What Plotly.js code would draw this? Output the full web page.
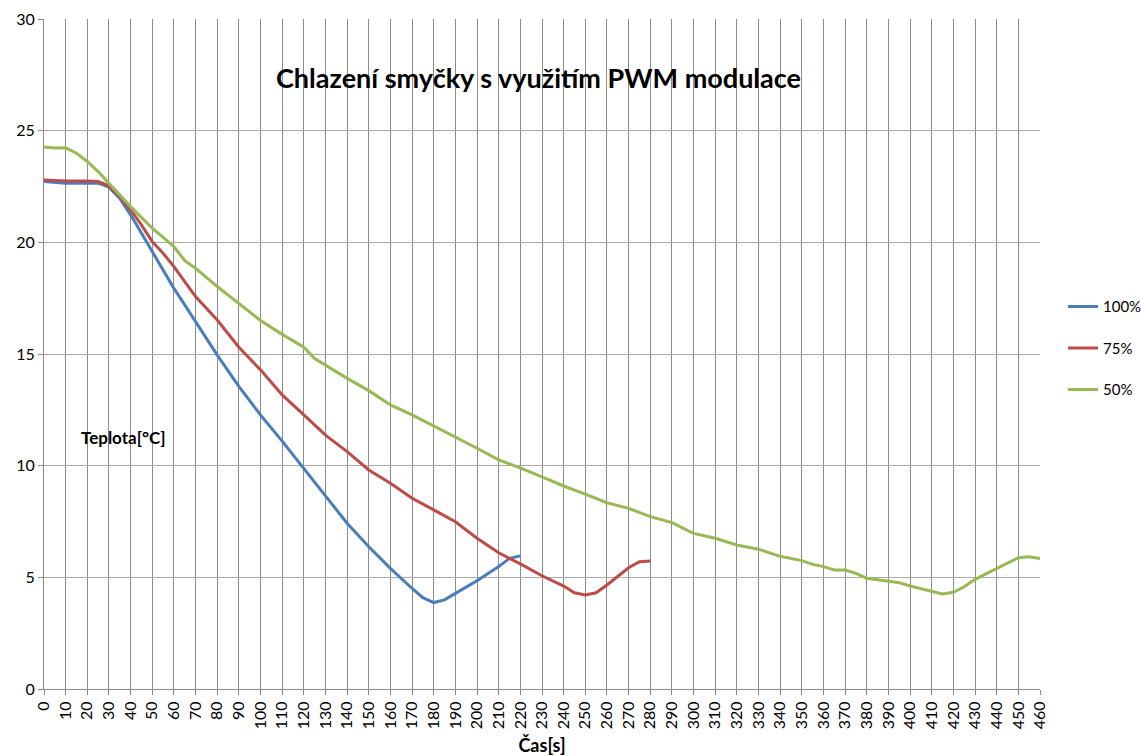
<!DOCTYPE html>
<html>
<head>
<meta charset="utf-8">
<script src="https://cdn.plot.ly/plotly-3.0.1.min.js"></script>
<style>html,body{margin:0;padding:0;background:#fff;}#chart{width:1141px;height:756px;}</style>
</head>
<body>
<div id="chart"></div>
<script>
// Data
const seriesNames = ["100%", "75%", "50%"];
const seriesColors = ["#4A7EBB", "#BE4B48", "#98B954"];

const time100 = [0,10,20,25,30,35,40,45,50,55,60,65,70,75,80,90,100,110,120,130,140,150,160,170,175,180,185,190,200,210,215,220];
const temp100 = [22.72,22.65,22.65,22.65,22.47,21.97,21.23,20.41,19.59,18.76,17.94,17.2,16.45,15.7,14.95,13.55,12.27,11.1,9.88,8.69,7.42,6.37,5.4,4.5,4.09,3.87,3.99,4.28,4.85,5.48,5.85,5.96];

const time75 = [0,10,20,25,30,35,40,45,50,55,60,65,70,80,90,100,110,120,130,140,150,160,170,180,190,200,210,220,230,240,245,250,255,260,265,270,275,280];
const temp75 = [22.79,22.75,22.75,22.72,22.53,22.05,21.45,20.78,20.03,19.51,18.91,18.24,17.57,16.52,15.3,14.29,13.17,12.27,11.37,10.63,9.81,9.21,8.54,8.02,7.49,6.75,6.1,5.6,5.07,4.61,4.31,4.21,4.31,4.66,5.03,5.43,5.70,5.73];

const time50 = [0,5,10,15,20,25,30,35,40,50,60,65,70,80,90,100,110,120,125,130,140,150,160,170,180,190,200,210,220,230,240,250,260,270,280,290,300,310,320,330,340,350,355,360,365,370,375,380,390,395,400,410,415,420,425,430,440,445,450,455,460];
const temp50 = [24.27,24.22,24.23,23.99,23.62,23.17,22.64,22.12,21.6,20.63,19.81,19.18,18.84,18.02,17.27,16.5,15.88,15.3,14.8,14.5,13.91,13.36,12.72,12.27,11.78,11.3,10.78,10.26,9.9,9.5,9.09,8.73,8.34,8.09,7.72,7.45,6.97,6.75,6.45,6.26,5.94,5.75,5.58,5.48,5.33,5.33,5.18,4.96,4.81,4.76,4.61,4.39,4.25,4.33,4.58,4.91,5.40,5.63,5.88,5.92,5.84];

const xTickVals = [];
for (let t = 0; t <= 460; t += 10) xTickVals.push(t);
const yTickVals = [0,5,10,15,20,25,30];

const chartTitle = "Chlazení smyčky s využitím PWM modulace";
const yTitle = "Teplota[°C]";
const xTitle = "Čas[s]";

const xs = [time100, time75, time50];
const ys = [temp100, temp75, temp50];

const traces = seriesNames.map((name, i) => ({
  type: "scatter",
  mode: "lines",
  name: name,
  x: xs[i],
  y: ys[i],
  legendgroup: "g" + i,
  line: {color: seriesColors[i], width: 3, shape: "linear"}
}));

const font = "Lato, 'Open Sans', sans-serif";

const layout = {
  width: 1141,
  height: 756,
  margin: {l: 44, r: 101, t: 19, b: 67, autoexpand: false},
  paper_bgcolor: "#ffffff",
  plot_bgcolor: "#ffffff",
  font: {family: font, size: 14, color: "#000000"},
  showlegend: true,
  legend: {
    x: (1063 - 44) / 996, y: 0.595, xanchor: "left", yanchor: "top",
    traceorder: "grouped",
    tracegroupgap: 19,
    font: {family: font, size: 15, color: "#000"},
    bgcolor: "rgba(0,0,0,0)",
    itemwidth: 30
  },
  xaxis: {
    range: [0, 460],
    tickmode: "array",
    tickvals: xTickVals,
    ticktext: xTickVals.map(String),
    tickangle: -90,
    showgrid: true,
    gridcolor: "#8C8C8C",
    gridwidth: 1,
    zeroline: false,
    showline: true,
    linecolor: "#8C8C8C",
    linewidth: 1,
    ticks: "outside",
    ticklen: 5,
    tickcolor: "#8C8C8C",
    automargin: false,
    tickfont: {family: font, size: 16, color: "#000"},
    title: {text: "<b>" + xTitle + "</b>", font: {family: font, size: 18, color: "#000"}, standoff: 11}
  },
  yaxis: {
    range: [0, 30],
    tickmode: "array",
    tickvals: yTickVals,
    showgrid: true,
    gridcolor: "#ABABAB",
    gridwidth: 1,
    zeroline: false,
    showline: true,
    linecolor: "#8C8C8C",
    ticks: "outside",
    ticklen: 5,
    tickcolor: "#8C8C8C",
    automargin: false,
    tickfont: {family: font, size: 16, color: "#000"}
  },
  annotations: [
    {
      text: "<b>" + chartTitle + "</b>",
      xref: "paper", yref: "paper",
      x: (538 - 44) / 996, y: (689 - 78) / 670,
      xanchor: "center", yanchor: "middle",
      showarrow: false,
      font: {family: font, size: 27, color: "#000"}
    },
    {
      text: "<b>" + yTitle + "</b>",
      xref: "paper", yref: "paper",
      x: (79 - 44) / 996, y: (689 - 437) / 670,
      xanchor: "left", yanchor: "middle",
      showarrow: false,
      font: {family: font, size: 17, color: "#000"}
    }
  ]
};

Plotly.newPlot("chart", traces, layout, {displayModeBar: false, staticPlot: true});
</script>
</body>
</html>
